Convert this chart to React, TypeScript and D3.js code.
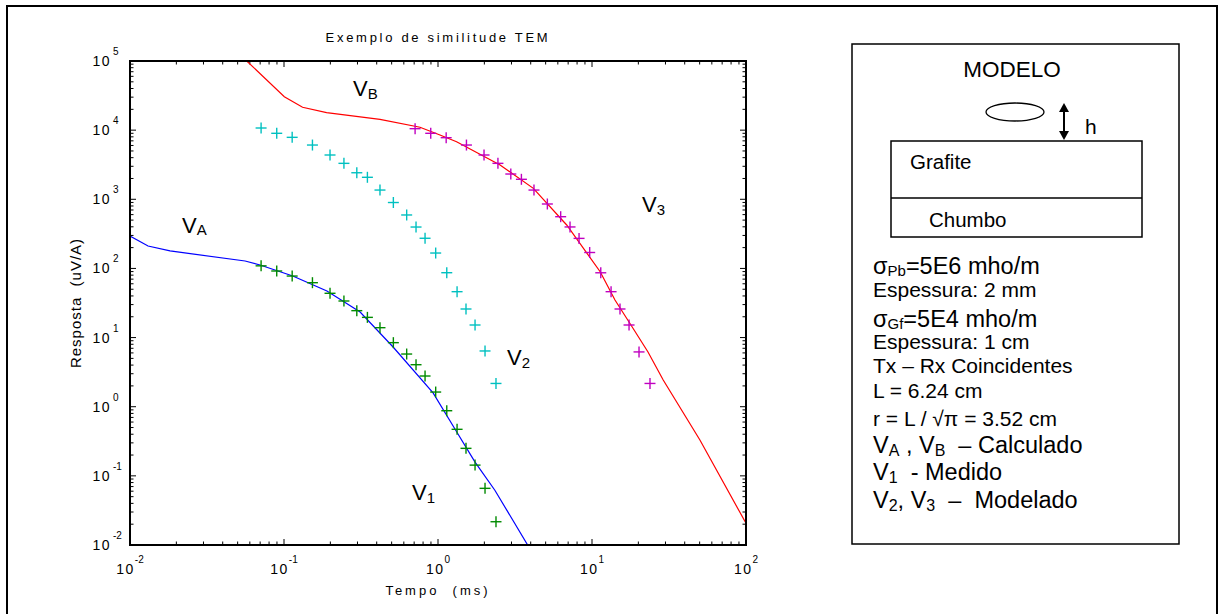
import React from "react";
import * as d3 from "d3";

// tempos (ms) das medidas V1 / V2
const tMedido = [0.071, 0.0897, 0.113, 0.153, 0.199, 0.245, 0.297, 0.348, 0.42, 0.513, 0.626, 0.72, 0.824, 0.966, 1.14, 1.33, 1.52, 1.74, 2.02, 2.38];
const v1 = [109, 91.8, 77.6, 62.2, 43.7, 33.8, 24.5, 19.6, 13.9, 8.44, 5.78, 4.05, 2.78, 1.63, 0.875, 0.471, 0.25, 0.143, 0.066, 0.0217];
const v2 = [10740, 9000, 7870, 6090, 4370, 3310, 2420, 2080, 1360, 898, 593, 397, 273, 167, 86.7, 46.1, 25.9, 15.2, 6.4, 2.17];

// V3 (modelado)
const tV3 = [0.71, 0.897, 1.13, 1.53, 1.99, 2.45, 2.97, 3.48, 4.2, 5.13, 6.26, 7.2, 8.24, 9.66, 11.4, 13.3, 15.2, 17.4, 20.2, 23.8];
const v3 = [10500, 9000, 7780, 6090, 4370, 3310, 2320, 1945, 1360, 855, 560, 398, 272, 170, 86.5, 46.1, 25.9, 15.2, 6.2, 2.17];

// VA calculado
const tA = [0.01, 0.0131, 0.0182, 0.0559, 0.0699, 0.114, 0.19, 0.312, 0.511, 0.929, 1.3, 1.74, 2.34, 3.84];
const vA = [294, 211, 179, 128, 112, 77.6, 47.1, 23.4, 7.3, 1.58, 0.46, 0.158, 0.062, 0.0098];

// VB calculado
const tB = [0.0573, 0.1005, 0.132, 0.189, 0.42, 0.764, 1.03, 1.32, 2.53, 4.16, 6.85, 11.3, 14.1, 17.9, 23.1, 29.0, 50.2, 100];
const vB = [100000, 30470, 21400, 17870, 14340, 11000, 8510, 6810, 3130, 1440, 425, 89.7, 34.9, 15.2, 6.18, 2.43, 0.33, 0.0206];

const xDecades = [-2, -1, 0, 1, 2];
const yDecades = [-2, -1, 0, 1, 2, 3, 4, 5];

const FONT = "'Liberation Sans', Arial, Helvetica, sans-serif";

const App = () => {
  const left = 130, top = 61, right = 746, bottom = 545;

  const x = d3.scaleLog().domain([1e-2, 1e2]).range([left, right]);
  const y = d3.scaleLog().domain([1e-2, 1e5]).range([bottom, top]);

  const line = d3
    .line<[number, number]>()
    .x((d) => x(d[0]))
    .y((d) => y(d[1]));

  const zip = (t: number[], v: number[]) => t.map((ti, i) => [ti, v[i]] as [number, number]);

  const isMajor = (v: number) => Math.abs(Math.log10(v) - Math.round(Math.log10(v))) < 1e-6;

  const cross = (t: number[], v: number[], color: string) =>
    t.map((ti, i) => {
      const cx = x(ti), cy = y(v[i]);
      return (
        <g key={color + i} stroke={color} strokeWidth={1.4}>
          <line x1={cx - 5.5} x2={cx + 5.5} y1={cy} y2={cy} />
          <line x1={cx} x2={cx} y1={cy - 5.5} y2={cy + 5.5} />
        </g>
      );
    });

  const xt = x.ticks();
  const yt = y.ticks();

  const sub = (s: string, size = 15, dy = 4) => (
    <tspan fontSize={size} dy={dy}>{s}</tspan>
  );

  return (
    <svg width={1221} height={614} style={{ position: "absolute", left: 0, top: 0, background: "#fff" }} fontFamily={FONT}>
      <rect x={7} y={6} width={1210} height={640} fill="none" stroke="#000" strokeWidth={2} />

      <defs>
        <clipPath id="plotclip">
          <rect x={left} y={top} width={right - left} height={bottom - top} />
        </clipPath>
      </defs>

      {/* ticks */}
      <g stroke="#000" strokeWidth={1}>
        {xt.map((t, i) => {
          const len = isMajor(t) ? 6 : 3.5;
          return (
            <g key={"xt" + i}>
              <line x1={x(t)} x2={x(t)} y1={bottom} y2={bottom - len} />
              <line x1={x(t)} x2={x(t)} y1={top} y2={top + len} />
            </g>
          );
        })}
        {yt.map((t, i) => {
          const len = isMajor(t) ? 6 : 3.5;
          return (
            <g key={"yt" + i}>
              <line x1={left} x2={left + len} y1={y(t)} y2={y(t)} />
              <line x1={right} x2={right - len} y1={y(t)} y2={y(t)} />
            </g>
          );
        })}
      </g>

      {/* curves */}
      <g clipPath="url(#plotclip)" fill="none">
        <path d={line(zip(tA, vA)) || ""} stroke="#0000ff" strokeWidth={1.2} />
        <path d={line(zip(tB, vB)) || ""} stroke="#ff0000" strokeWidth={1.2} />
        {cross(tMedido, v1, "#008a00")}
        {cross(tMedido, v2, "#00c0c0")}
        {cross(tV3, v3, "#c000c0")}
      </g>

      <rect x={left} y={top} width={right - left} height={bottom - top} fill="none" stroke="#000" strokeWidth={2} />

      {/* tick labels */}
      <g fontSize={14} fill="#000">
        {xDecades.map((d) => (
          <text key={"xl" + d} x={x(Math.pow(10, d))} y={bottom + 29} textAnchor="middle" letterSpacing={1.5}>
            10
            <tspan fontSize={10} dy={-11} letterSpacing={0}>{d}</tspan>
          </text>
        ))}
        {yDecades.map((d) => (
          <g key={"yl" + d}>
            <text x={111} y={y(Math.pow(10, d)) + 5} textAnchor="end" letterSpacing={1.5}>10</text>
            <text x={113} y={y(Math.pow(10, d)) - 6} fontSize={10}>{d}</text>
          </g>
        ))}
      </g>

      <text x={(left + right) / 2} y={42} textAnchor="middle" fontSize={13} letterSpacing={2.7}>
        Exemplo de similitude TEM
      </text>
      <text x={(left + right) / 2} y={595} textAnchor="middle" fontSize={13} letterSpacing={3} xmlSpace="preserve">
        {"Tempo  (ms)"}
      </text>
      <text transform={`translate(81,${(top + bottom) / 2}) rotate(-90)`} textAnchor="middle" fontSize={15} letterSpacing={1} xmlSpace="preserve">
        {"Resposta  (uV/A)"}
      </text>

      {/* curve labels */}
      <g fontSize={22}>
        <text x={353} y={96}>V{sub("B", 15, 3)}</text>
        <text x={182} y={233}>V{sub("A", 15, 2)}</text>
        <text x={642} y={212}>V{sub("3", 15, 3)}</text>
        <text x={507} y={365}>V{sub("2", 15, 3)}</text>
        <text x={412} y={500}>V{sub("1", 15, 3)}</text>
      </g>

      {/* model panel */}
      <rect x={852} y={44} width={327} height={500} fill="none" stroke="#000" strokeWidth={1.5} />
      <text x={1012} y={77} textAnchor="middle" fontSize={22.5}>MODELO</text>
      <ellipse cx={1015} cy={112} rx={29} ry={9} fill="none" stroke="#000" strokeWidth={1.3} />
      <line x1={1064} x2={1064} y1={108} y2={135} stroke="#000" strokeWidth={2} />
      <path d="M1064,103 L1059,112 L1069,112 Z" fill="#000" />
      <path d="M1064,140 L1059,131 L1069,131 Z" fill="#000" />
      <text x={1085} y={134} fontSize={21}>h</text>
      <rect x={891} y={141} width={251} height={96} fill="none" stroke="#000" strokeWidth={1.5} />
      <line x1={891} x2={1142} y1={198} y2={198} stroke="#000" strokeWidth={1.5} />
      <text x={910} y={169} fontSize={20.5}>Grafite</text>
      <text x={929} y={227} fontSize={20.5}>Chumbo</text>

      <g fontSize={21}>
        <text x={873} y={274} fontSize={23.5}>σ<tspan fontSize={15} dy={2}>Pb</tspan><tspan dy={-2}>=5E6 mho/m</tspan></text>
        <text x={873} y={297}>Espessura: 2 mm</text>
        <text x={873} y={327} fontSize={23.5}>σ<tspan fontSize={15} dy={2}>Gf</tspan><tspan dy={-2}>=5E4 mho/m</tspan></text>
        <text x={873} y={349}>Espessura: 1 cm</text>
        <text x={873} y={373}>Tx – Rx Coincidentes</text>
        <text x={873} y={398}>L = 6.24 cm</text>
        <text x={873} y={426}>r = L / √π = 3.52 cm</text>
        <text x={873} y={453} fontSize={23.5} xmlSpace="preserve">V<tspan fontSize={16} dy={3}>A</tspan><tspan dy={-3}>{" , V"}</tspan><tspan fontSize={16} dy={3}>B</tspan><tspan dy={-3}>{"  – Calculado"}</tspan></text>
        <text x={873} y={480} fontSize={23.5} xmlSpace="preserve">V<tspan fontSize={16} dy={3}>1</tspan><tspan dy={-3}>{"  - Medido"}</tspan></text>
        <text x={873} y={508} fontSize={23.5} xmlSpace="preserve">V<tspan fontSize={16} dy={3}>2</tspan><tspan dy={-3}>{", V"}</tspan><tspan fontSize={16} dy={3}>3</tspan><tspan dy={-3}>{"  –  Modelado"}</tspan></text>
      </g>
    </svg>
  );
};

export default App;
